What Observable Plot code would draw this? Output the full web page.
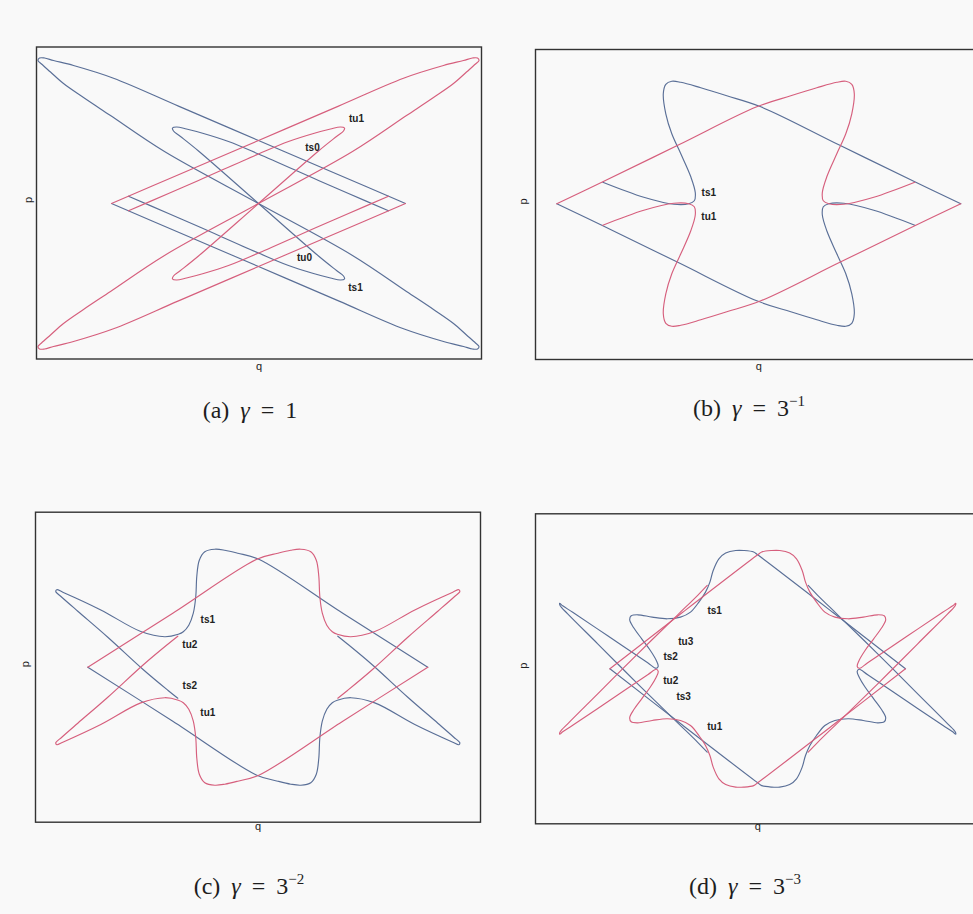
<!DOCTYPE html>
<html>
<head>
<meta charset="utf-8">
<script src="https://cdn.jsdelivr.net/npm/d3@7"></script>
<script src="https://cdn.jsdelivr.net/npm/@observablehq/plot@0.6"></script>
<style>
  html, body { margin: 0; padding: 0; background: #f9f9f9; }
  #page { position: relative; width: 973px; height: 914px; overflow: hidden; background: #f9f9f9; }
  .panel { position: absolute; }
  .cap { position: absolute; transform: translate(-50%, -50%); font-family: "Liberation Serif", "DejaVu Serif", serif;
         font-size: 24px; word-spacing: 5px; color: #1e1e1e; white-space: nowrap; }
  .cap i { font-style: italic; }
  .cap sup { font-size: 15px; vertical-align: 10px; line-height: 0; word-spacing: 0; }
</style>
</head>
<body>
<div id="page"></div>
<script>
// Stable (blue) and unstable (red) manifolds in the (q, p) plane.
// Each piece is an ordered list of [q, p] samples; units are the same on both axes.

// ---- (a) gamma = 1 ----
const aRedOuter = [[-147,0],[-80,28.7],[0,63],[80,97.4],[145,125.3],[185,138],[205,143],[214,145.5],[219,145.5],[220.5,143],[217,139.5],[208,131.5],[195,120],[175,106],[148,88],[94,52],[0,0],[-94,-52],[-148,-88],[-175,-106],[-195,-120],[-208,-131.5],[-217,-139.5],[-220.5,-143],[-219,-145.5],[-214,-145.5],[-205,-143],[-185,-138],[-145,-125.3],[-80,-97.4],[0,-63],[80,-28.7],[147,0]];
const aRedInner = [[130,7.3],[90,-10],[60,-23],[0,-49.5],[-30,-62],[-55,-70],[-72,-74.5],[-82,-76.5],[-86,-75.5],[-85,-72.5],[-78,-67],[-60,-52.5],[0,0],[60,52.5],[78,67],[85,72.5],[86,75.5],[82,76.5],[72,74.5],[55,70],[30,62],[0,49.5],[-60,23],[-90,10],[-130,-7.3]];
const aBlueOuter = [[147,0],[80,28.7],[0,63],[-80,97.4],[-145,125.3],[-185,138],[-205,143],[-214,145.5],[-219,145.5],[-220.5,143],[-217,139.5],[-208,131.5],[-195,120],[-175,106],[-148,88],[-94,52],[0,0],[94,-52],[148,-88],[175,-106],[195,-120],[208,-131.5],[217,-139.5],[220.5,-143],[219,-145.5],[214,-145.5],[205,-143],[185,-138],[145,-125.3],[80,-97.4],[0,-63],[-80,-28.7],[-147,0]];
const aBlueInner = [[-130,7.3],[-90,-10],[-60,-23],[0,-49.5],[30,-62],[55,-70],[72,-74.5],[82,-76.5],[86,-75.5],[85,-72.5],[78,-67],[60,-52.5],[0,0],[-60,52.5],[-78,67],[-85,72.5],[-86,75.5],[-82,76.5],[-72,74.5],[-55,70],[-30,62],[0,49.5],[60,23],[90,10],[130,-7.3]];
const aLabels = [{t:"tu1",q:98,p:85},{t:"ts0",q:54,p:56},{t:"tu0",q:46,p:-54},{t:"ts1",q:97,p:-84}];

// ---- (b) gamma = 3^-1 ----
const bRed1 = [[-202,0],[-157,21.5],[-80,59],[-2,97],[32,108],[58,116],[78,121.5],[87,122.5],[93,119.5],[95.5,110],[93,90],[87,70],[78,50],[68,27],[63.5,11],[64.5,3],[70,0],[85,-0.5],[115,6.5],[156,21.5]];
const bRed2 = [[202,0],[157,-21.5],[80,-59],[2,-97],[-32,-108],[-58,-116],[-78,-121.5],[-87,-122.5],[-93,-119.5],[-95.5,-110],[-93,-90],[-87,-70],[-78,-50],[-68,-27],[-63.5,-11],[-64.5,-3],[-70,0],[-85,0.5],[-115,-6.5],[-156,-21.5]];
const bBlue1 = [[-202,0],[-157,-21.5],[-80,-59],[-2,-97],[32,-108],[58,-116],[78,-121.5],[87,-122.5],[93,-119.5],[95.5,-110],[93,-90],[87,-70],[78,-50],[68,-27],[63.5,-11],[64.5,-3],[70,0],[85,0.5],[115,-6.5],[156,-21.5]];
const bBlue2 = [[202,0],[157,21.5],[80,59],[2,97],[-32,108],[-58,116],[-78,121.5],[-87,122.5],[-93,119.5],[-95.5,110],[-93,90],[-87,70],[-78,50],[-68,27],[-63.5,11],[-64.5,3],[-70,0],[-85,-0.5],[-115,6.5],[-156,21.5]];
const bLabels = [{t:"ts1",q:-50,p:11.5},{t:"tu1",q:-50,p:-12.5}];

// ---- (c) gamma = 3^-2 ----
const cRed1 = [[-170,0],[-85,54],[-1,108],[20,114],[33,117],[43,118],[53,115.5],[58.5,107],[61,91],[62,71],[64.5,54],[69,42],[74.5,35.5],[79.5,33],[93,30.5],[117,35.7],[157,57.3],[195,75],[201,77.5],[202,75.5],[196,70],[180,56],[150,30],[115,-2],[90,-23],[80,-31]];
const cRed2 = [[170,0],[85,-54],[1,-108],[-20,-114],[-33,-117],[-43,-118],[-53,-115.5],[-58.5,-107],[-61,-91],[-62,-71],[-64.5,-54],[-69,-42],[-74.5,-35.5],[-79.5,-33],[-93,-30.5],[-117,-35.7],[-157,-57.3],[-195,-75],[-201,-77.5],[-202,-75.5],[-196,-70],[-180,-56],[-150,-30],[-115,2],[-90,23],[-80,31]];
const cBlue1 = [[-170,0],[-85,-54],[-1,-108],[20,-114],[33,-117],[43,-118],[53,-115.5],[58.5,-107],[61,-91],[62,-71],[64.5,-54],[69,-42],[74.5,-35.5],[79.5,-33],[93,-30.5],[117,-35.7],[157,-57.3],[195,-75],[201,-77.5],[202,-75.5],[196,-70],[180,-56],[150,-30],[115,2],[90,23],[80,31]];
const cBlue2 = [[170,0],[85,54],[1,108],[-20,114],[-33,117],[-43,118],[-53,115.5],[-58.5,107],[-61,91],[-62,71],[-64.5,54],[-69,42],[-74.5,35.5],[-79.5,33],[-93,30.5],[-117,35.7],[-157,57.3],[-195,75],[-201,77.5],[-202,75.5],[-196,70],[-180,56],[-150,30],[-115,-2],[-90,-23],[-80,-31]];
const cLabels = [{t:"ts1",q:-50,p:47},{t:"tu2",q:-68,p:22},{t:"ts2",q:-68,p:-19},{t:"tu1",q:-50,p:-46}];

// ---- (d) gamma = 3^-3 ----
const dBlue2 = [[147.8,0],[75,56.5],[0,114],[-4,116.8],[-14,118.3],[-22,118.3],[-32,115.7],[-38.8,110],[-44.5,98.3],[-47.8,86.7],[-52.2,76.7],[-58.8,66.7],[-67.2,56.7],[-77.2,51.7],[-90.5,50],[-105.5,51.7],[-120,54],[-126.5,53],[-128,49],[-124,41],[-116,30],[-107.5,18.5],[-101.5,8.5],[-99.5,2.5],[-101.5,0.5],[-110,6],[-150,33],[-185,56.5],[-195,63],[-198,65.5],[-197.5,63],[-190,55],[-160,25],[-120,-15],[-80,-54],[-60,-73.5],[-50.5,-83.4]];
const dRed2 = [[147.8,0],[75,-56.5],[0,-114],[-4,-116.8],[-14,-118.3],[-22,-118.3],[-32,-115.7],[-38.8,-110],[-44.5,-98.3],[-47.8,-86.7],[-52.2,-76.7],[-58.8,-66.7],[-67.2,-56.7],[-77.2,-51.7],[-90.5,-50],[-105.5,-51.7],[-120,-54],[-126.5,-53],[-128,-49],[-124,-41],[-116,-30],[-107.5,-18.5],[-101.5,-8.5],[-99.5,-2.5],[-101.5,-0.5],[-110,-6],[-150,-33],[-185,-56.5],[-195,-63],[-198,-65.5],[-197.5,-63],[-190,-55],[-160,-25],[-120,15],[-80,54],[-60,73.5],[-50.5,83.4]];
const dRed1 = [[-147.8,0],[-75,56.5],[0,114],[4,116.8],[14,118.3],[22,118.3],[32,115.7],[38.8,110],[44.5,98.3],[47.8,86.7],[52.2,76.7],[58.8,66.7],[67.2,56.7],[77.2,51.7],[90.5,50],[105.5,51.7],[120,54],[126.5,53],[128,49],[124,41],[116,30],[107.5,18.5],[101.5,8.5],[99.5,2.5],[101.5,0.5],[110,6],[150,33],[185,56.5],[195,63],[198,65.5],[197.5,63],[190,55],[160,25],[120,-15],[80,-54],[60,-73.5],[50.5,-83.4]];
const dBlue1 = [[-147.8,0],[-75,-56.5],[0,-114],[4,-116.8],[14,-118.3],[22,-118.3],[32,-115.7],[38.8,-110],[44.5,-98.3],[47.8,-86.7],[52.2,-76.7],[58.8,-66.7],[67.2,-56.7],[77.2,-51.7],[90.5,-50],[105.5,-51.7],[120,-54],[126.5,-53],[128,-49],[124,-41],[116,-30],[107.5,-18.5],[101.5,-8.5],[99.5,-2.5],[101.5,-0.5],[110,-6],[150,-33],[185,-56.5],[195,-63],[198,-65.5],[197.5,-63],[190,-55],[160,-25],[120,15],[80,54],[60,73.5],[50.5,83.4]];
const dLabels = [{t:"ts1",q:-43,p:58},{t:"tu3",q:-72,p:27},{t:"ts2",q:-87,p:12},{t:"tu2",q:-87,p:-12},{t:"ts3",q:-74,p:-28},{t:"tu1",q:-43,p:-58}];

const RED = "#d65f7d";
const BLUE = "#5a6f97";

function rows(pieces, tag) {
  return pieces.flatMap((pts, i) => pts.map(([q, p]) => ({q, p, piece: tag + i})));
}

function panel(o) {
  const svg = Plot.plot({
    width: o.width, height: o.height,
    marginLeft: o.ml, marginRight: o.mr, marginTop: o.mt, marginBottom: o.mb,
    x: {domain: o.q, axis: null},
    y: {domain: o.p, axis: null},
    style: {background: "transparent", overflow: "visible"},
    marks: [
      Plot.line(rows(o.blue, "b"), {x: "q", y: "p", z: "piece", stroke: BLUE, strokeWidth: 1.15, curve: "catmull-rom"}),
      Plot.line(rows(o.red, "r"), {x: "q", y: "p", z: "piece", stroke: RED, strokeWidth: 1.15, curve: "catmull-rom"}),
      Plot.frame({stroke: "#333", strokeWidth: 1.4}),
      Plot.text(o.labels, {x: "q", y: "p", text: "t", fontSize: 10, fontWeight: 600, fill: "#222",
                           fontFamily: "Liberation Sans, Arial, sans-serif"}),
      Plot.text(["q"], {frameAnchor: "bottom", dy: o.qdy, fontSize: 11, fill: "#222", fontFamily: "Liberation Sans, sans-serif"}),
      Plot.text(["p"], {frameAnchor: "left", dx: o.pdx, rotate: -90, fontSize: 11, fill: "#222", fontFamily: "Liberation Sans, sans-serif"})
    ]
  });
  svg.classList.add("panel");
  svg.style.left = o.left + "px";
  svg.style.top = o.top + "px";
  document.getElementById("page").appendChild(svg);
}

panel({left: 0, top: 0, width: 490, height: 380, ml: 36, mr: 9, mt: 46.5, mb: 21.5,
       q: [-222, 223], p: [-155.5, 156.5], red: [aRedOuter, aRedInner], blue: [aBlueOuter, aBlueInner],
       labels: aLabels, qdy: 11, pdx: -8});
panel({left: 490, top: 0, width: 500, height: 380, ml: 45, mr: 8.4, mt: 49, mb: 21,
       q: [-223.3, 223.3], p: [-155.7, 154.3], red: [bRed1, bRed2], blue: [bBlue1, bBlue2],
       labels: bLabels, qdy: 10, pdx: -12});
panel({left: 0, top: 470, width: 490, height: 380, ml: 35, mr: 10, mt: 41.7, mb: 28.3,
       q: [-222.3, 222.7], p: [-155, 155], red: [cRed1, cRed2], blue: [cBlue1, cBlue2],
       labels: cLabels, qdy: 8, pdx: -10});
panel({left: 490, top: 470, width: 500, height: 380, ml: 45, mr: 10.6, mt: 43.3, mb: 26.7,
       q: [-222.2, 222.2], p: [-155, 155], red: [dRed1, dRed2], blue: [dBlue1, dBlue2],
       labels: dLabels, qdy: 6, pdx: -12});

// Sub-figure captions
const captions = [
  {x: 250, y: 410, html: "(a) <i>γ</i> = 1"},
  {x: 749, y: 408, html: "(b) <i>γ</i> = 3<sup>−1</sup>"},
  {x: 249, y: 886, html: "(c) <i>γ</i> = 3<sup>−2</sup>"},
  {x: 745, y: 886, html: "(d) <i>γ</i> = 3<sup>−3</sup>"}
];
for (const c of captions) {
  const d = document.createElement("div");
  d.className = "cap";
  d.style.left = c.x + "px";
  d.style.top = c.y + "px";
  d.innerHTML = c.html;
  document.getElementById("page").appendChild(d);
}
</script>
</body>
</html>
